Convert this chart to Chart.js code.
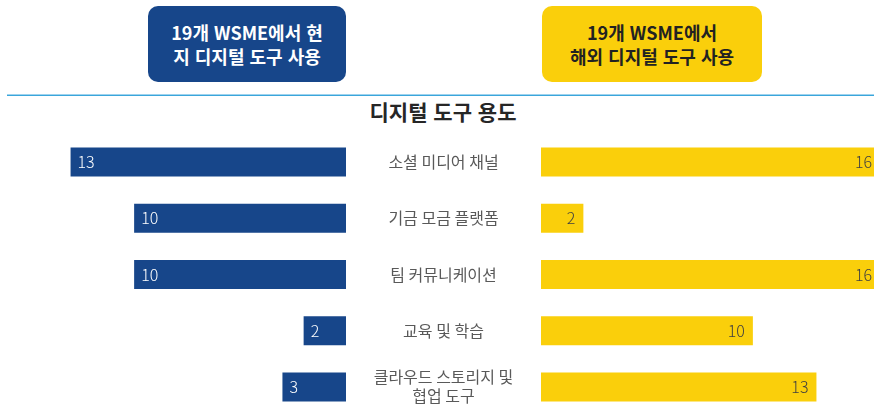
<!DOCTYPE html>
<html lang="ko">
<head>
<meta charset="utf-8">
<script src="https://cdn.jsdelivr.net/npm/chart.js@4"></script>
<style>
  html, body {
    margin: 0;
    padding: 0;
    background: #fff;
  }
  body {
    position: relative;
    width: 874px;
    height: 404px;
    overflow: hidden;
    font-family: 'Noto Sans CJK KR', 'Noto Sans', sans-serif;
  }
  .head {
    position: absolute;
    top: 6px;
    height: 76px;
    border-radius: 10px;
    display: flex;
    align-items: center;
    justify-content: center;
    text-align: center;
    font-weight: bold;
    font-size: 18px;
    line-height: 24px;
  }
  #headLocal { left: 148px; width: 198px; background: #17468a; color: #fff; }
  #headAbroad { left: 542px; width: 220px; background: #facf0b; color: #222; }
  #rule {
    position: absolute;
    top: 94px;
    left: 7px;
    right: 0;
    height: 2px;
    background: #3aa6db;
    border-top: 1px solid #9fd3ee;
    box-sizing: border-box;
  }
  #title {
    position: absolute;
    top: 96px;
    left: 343px;
    width: 200px;
    text-align: center;
    font-size: 21px;
    font-weight: bold;
    color: #262626;
  }
  canvas { position: absolute; top: 134px; }
  #leftChart { left: 7px; }
  #rightChart { left: 346px; }
</style>
</head>
<body>
<div class="head" id="headLocal">19개 WSME에서 현<br>지 디지털 도구 사용</div>
<div class="head" id="headAbroad">19개 WSME에서<br>해외 디지털 도구 사용</div>
<div id="rule"></div>
<div id="title">디지털 도구 용도</div>
<canvas id="leftChart" width="339" height="281"></canvas>
<canvas id="rightChart" width="534" height="281"></canvas>
<script>
const categories = ['소셜 미디어 채널', '기금 모금 플랫폼', '팀 커뮤니케이션', '교육 및 학습', ['클라우드 스토리지 및', '협업 도구']];
const localUse = [13, 10, 10, 2, 3];
const abroadUse = [16, 2, 16, 10, 13];
const axisMax = 16;

const FONT = "'Noto Sans CJK KR', 'Noto Sans', sans-serif";
Chart.defaults.font.family = FONT;

// value written inside the end of each bar
const barValues = {
  id: 'barValues',
  afterDatasetsDraw(chart, args, opts) {
    const ctx = chart.ctx;
    const meta = chart.getDatasetMeta(0);
    const data = chart.data.datasets[0].data;
    ctx.save();
    ctx.font = '300 16px ' + FONT;
    ctx.fillStyle = opts.color;
    ctx.textBaseline = 'middle';
    meta.data.forEach((bar, i) => {
      if (opts.side === 'left') {
        ctx.textAlign = 'left';
        ctx.fillText(data[i], bar.x + 7, bar.y);
      } else {
        ctx.textAlign = 'right';
        ctx.fillText(data[i], bar.x - 8, bar.y);
      }
    });
    ctx.restore();
  }
};

// category names in the gap between the two charts
const middleLabels = {
  id: 'middleLabels',
  afterDraw(chart) {
    const ctx = chart.ctx;
    const y = chart.scales.y;
    const cx = chart.chartArea.left / 2;
    ctx.save();
    ctx.font = '16px ' + FONT;
    ctx.fillStyle = '#595959';
    ctx.textAlign = 'center';
    ctx.textBaseline = 'middle';
    chart.data.labels.forEach((label, i) => {
      const lines = Array.isArray(label) ? label : [label];
      const mid = y.getPixelForValue(i);
      lines.forEach((line, k) => {
        ctx.fillText(line, cx, mid + (k - (lines.length - 1) / 2) * 19);
      });
    });
    ctx.restore();
  }
};

function makeChart(id, values, color, side, valueColor, padLeft) {
  return new Chart(document.getElementById(id), {
    type: 'bar',
    data: {
      labels: categories,
      datasets: [{
        data: values,
        backgroundColor: color,
        borderWidth: 0,
        categoryPercentage: 1,
        barPercentage: 0.516
      }]
    },
    options: {
      indexAxis: 'y',
      responsive: false,
      animation: false,
      layout: { padding: { left: padLeft, right: 0, top: 0, bottom: 0 } },
      scales: {
        x: {
          display: false,
          min: 0,
          max: axisMax,
          reverse: side === 'left'
        },
        y: { display: false }
      },
      plugins: {
        legend: { display: false },
        tooltip: { enabled: false },
        barValues: { side: side, color: valueColor }
      }
    },
    plugins: side === 'left' ? [barValues] : [barValues, middleLabels]
  });
}

makeChart('leftChart', localUse, '#17468a', 'left', '#ffffff', 0);
makeChart('rightChart', abroadUse, '#facf0b', 'right', '#404040', 195);
</script>
</body>
</html>
